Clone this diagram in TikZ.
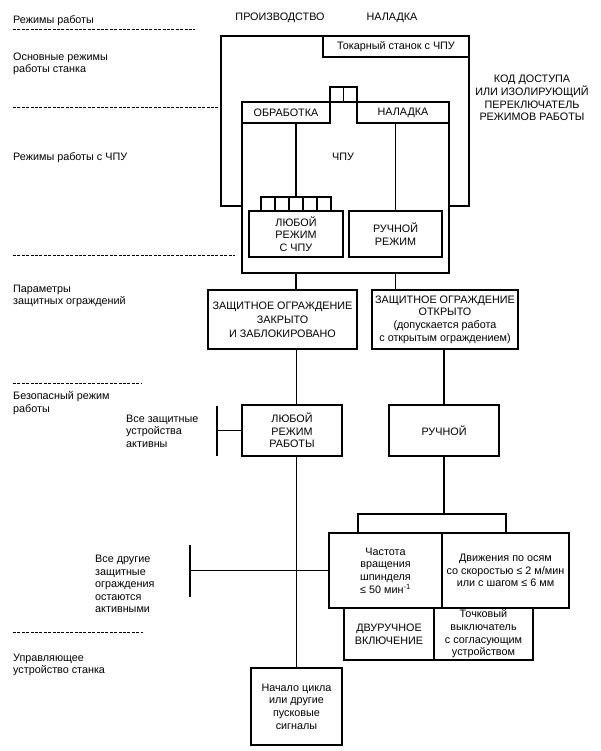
\documentclass[tikz,border=0pt]{standalone}
\usepackage{fontspec}
\setmainfont{Liberation Sans}
\tikzset{
	blok/.style={draw, line width=1.5pt, fill=white, align=center, inner sep=1pt},
	razdel/.style={line width=1pt, dash pattern=on 3pt off 1.4pt},
	lin/.style={line width=1.6pt},
	lbl/.style={align=left, anchor=west, inner sep=0pt},
	zag/.style={align=center, inner sep=0pt},
}

\begin{document}
\begin{tikzpicture}[x=1pt, y=-1pt, font=\fontsize{10.8}{12.6}\selectfont]
			\useasboundingbox (0,0) rectangle (600,751);
			%%%%% START %%%%%
			
			% left column
			\node[lbl] (lrezhimy) at (13,21) {Режимы работы};
			\node[lbl] (losn) at (13,64) {Основные режимы\\работы станка};
			\node[lbl] (lchpu) at (13,158) {Режимы работы с ЧПУ};
			\node[lbl] (lparam) at (13,296) {Параметры\\защитных ограждений};
			\node[lbl] (lbezop) at (13,403) {Безопасный режим\\работы};
			\node[lbl] (lupr) at (13,665) {Управляющее\\устройство станка};
			\node[lbl] (lvse) at (126,431) {Все защитные\\устройства\\активны};
			\node[lbl] (ldrug) at (95,584) {Все другие\\защитные\\ограждения\\остаются\\активными};
			
			% headers
			\node[zag] (hproizv) at (280,18) {ПРОИЗВОДСТВО};
			\node[zag] (hnal) at (392,18) {НАЛАДКА};
			\node[zag] (kod) at (532,98) {КОД ДОСТУПА\\ИЛИ ИЗОЛИРУЮЩИЙ\\ПЕРЕКЛЮЧАТЕЛЬ\\РЕЖИМОВ РАБОТЫ};
			
			% machine and CNC
			\node[blok, minimum width=248pt, minimum height=170pt] (lathe) at (345,121) {};
			\node[blok, minimum width=146pt, minimum height=21pt] (lathelbl) at (396,46.5) {Токарный станок с ЧПУ};
			\draw[lin] (330,87) rectangle (343.5,102);
			\draw[lin] (343.5,87) rectangle (357,102);
			\node[blok, minimum width=207pt, minimum height=171pt] (cnc) at (345.5,187.5) {};
			\node[zag] (cnclbl) at (343,157) {ЧПУ};
			\node[blok, minimum width=88pt, minimum height=21pt] (obr) at (286,112.5) {ОБРАБОТКА};
			\node[blok, minimum width=92pt, minimum height=21pt] (nal) at (403,112.5) {НАЛАДКА};
			
			\draw[lin] (261,197) rectangle (275,211);
			\draw[lin] (275,197) rectangle (289,211);
			\draw[lin] (289,197) rectangle (303,211);
			\draw[lin] (303,197) rectangle (317,211);
			\draw[lin] (317,197) rectangle (331,211);
			\coordinate (sqtop) at (296,197);
			
			\node[blok, minimum width=94pt, minimum height=46pt] (anycnc) at (296,234) {ЛЮБОЙ\\РЕЖИМ\\С ЧПУ};
			\node[blok, minimum width=93pt, minimum height=46pt] (ruchrez) at (395.5,234) {РУЧНОЙ\\РЕЖИМ};
			
			% guards
			\node[blok, minimum width=149pt, minimum height=59pt] (zakr) at (282.5,319.5) {ЗАЩИТНОЕ ОГРАЖДЕНИЕ\\[1.5pt]ЗАКРЫТО\\[1.5pt]И ЗАБЛОКИРОВАНО};
			\node[blok, minimum width=146pt, minimum height=59pt] (otkr) at (445,319.5) {ЗАЩИТНОЕ ОГРАЖДЕНИЕ\\ОТКРЫТО\\(допускается работа\\с открытым ограждением)};
			
			% safe modes
			\node[blok, minimum width=100pt, minimum height=51pt] (anyrab) at (292,430.5) {ЛЮБОЙ\\РЕЖИМ\\РАБОТЫ};
			\node[blok, minimum width=110pt, minimum height=51pt] (ruch) at (444,430.5) {РУЧНОЙ};
			
			\node[blok, minimum width=113pt, minimum height=75pt] (chast) at (385.5,570.5) {Частота\\вращения\\шпинделя\\≤ 50 мин\textsuperscript{-1}};
			\node[blok, minimum width=127pt, minimum height=75pt] (dvizh) at (505.5,570.5) {Движения по осям\\со скоростью ≤ 2 м/мин\\или с шагом ≤ 6 мм};
			\node[blok, minimum width=90pt, minimum height=52pt] (dvuruch) at (389,634) {ДВУРУЧНОЕ\\ВКЛЮЧЕНИЕ};
			\node[blok, minimum width=99pt, minimum height=52pt] (tochk) at (483.5,634) {Точковый\\выключатель\\с согласующим\\устройством};
			
			\node[blok, minimum width=91pt, minimum height=77pt] (start) at (296.5,706.5) {Начало цикла\\или другие\\пусковые\\сигналы};
			
			% separators
			\draw[razdel] (13,30) -- (195,30);
			\draw[razdel] (13,108) -- (13,108 -| lathe.west);
			\draw[razdel] (13,255) -- (235,255);
			\draw[razdel] (13,383) -- (142,383);
			\draw[razdel] (13,632) -- (143,632);
			
			% connections
			\draw[lin] (obr.south -| sqtop) -- (sqtop);
			\draw[lin] (nal.south -| ruchrez.north) -- (ruchrez.north);
			\draw[lin] (anycnc.south |- cnc.south) -- (anycnc.south |- zakr.north);
			\draw[lin] (ruchrez.south |- cnc.south) -- (ruchrez.south |- otkr.north);
			\draw[lin] (zakr.south -| start.north) -- (anyrab.north -| start.north);
			\draw[lin] (anyrab.south -| start.north) -- (start.north);
			\draw[lin] (ruch.north |- otkr.south) -- (ruch.north);
			
			\coordinate (forkl) at (358,514);
			\coordinate (forkr) at (506,514);
			\draw[lin] (ruch.south) -- (ruch.south |- forkl);
			\draw[lin] (chast.north -| forkl) -- (forkl) -- (forkr) -- (dvizh.north -| forkr);
			
			\coordinate (bra) at (217,406);
			\coordinate (brb) at (217,456);
			\draw[lin] (bra) -- (brb);
			\draw[lin] (anyrab.west) -- (anyrab.west -| bra);
			
			\coordinate (brc) at (190,545);
			\coordinate (brd) at (190,597);
			\draw[lin] (brc) -- (brd);
			\draw[lin] (chast.west) -- (chast.west -| brc);
			
			%%%%% END %%%%%
\end{tikzpicture}
\end{document}
